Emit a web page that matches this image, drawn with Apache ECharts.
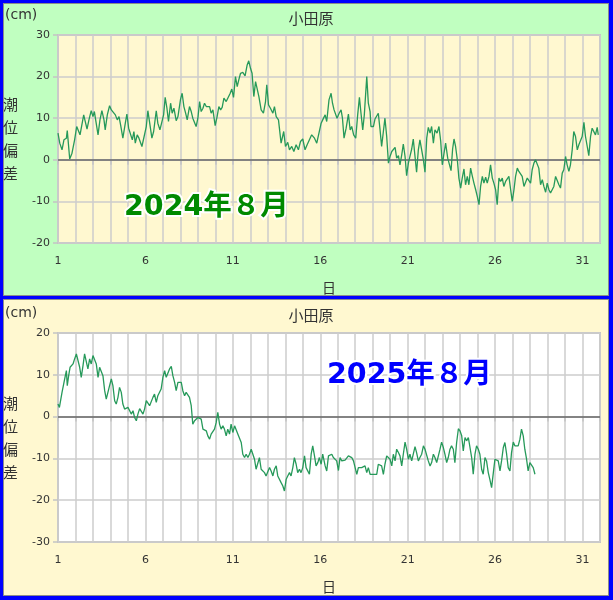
<!DOCTYPE html>
<html><head><meta charset="utf-8">
<script src="https://cdn.jsdelivr.net/npm/echarts@6/dist/echarts.min.js"></script>
<style>
html,body{margin:0;padding:0;}
body{width:613px;height:600px;background:#0000ff;position:relative;overflow:hidden;}
.panel{position:absolute;left:3px;width:604px;border:1px solid #8c8c8c;}
#p1{top:3px;height:291px;background:#c0ffc0;}
#p2{top:299px;height:295px;background:#fff8d0;}
#chart{position:absolute;left:0;top:0;width:613px;height:600px;}
</style></head>
<body>
<div class="panel" id="p1"></div>
<div class="panel" id="p2"></div>
<div id="chart"></div>
<script>
// 2024年8月 小田原 潮位偏差 (day of month, cm)
const days2024 = [1.00,1.10,1.23,1.34,1.48,1.53,1.67,1.80,1.95,2.07,2.18,2.26,2.33,2.47,2.56,2.66,2.77,2.90,3.00,3.08,3.17,3.29,3.40,3.51,3.63,3.70,3.82,3.95,4.05,4.16,4.28,4.39,4.49,4.58,4.71,4.85,4.94,5.04,5.15,5.25,5.34,5.42,5.53,5.63,5.72,5.80,5.91,6.05,6.14,6.26,6.37,6.47,6.62,6.71,6.83,6.94,7.04,7.13,7.23,7.32,7.44,7.53,7.63,7.76,7.86,8.01,8.10,8.20,8.30,8.39,8.52,8.62,8.71,8.81,8.90,9.00,9.10,9.19,9.29,9.38,9.48,9.57,9.67,9.76,9.86,9.99,10.10,10.20,10.30,10.39,10.49,10.62,10.71,10.85,10.94,11.04,11.15,11.25,11.34,11.44,11.57,11.70,11.82,11.91,12.01,12.10,12.20,12.30,12.39,12.49,12.62,12.75,12.87,12.94,13.04,13.15,13.29,13.38,13.48,13.61,13.76,13.91,14.01,14.14,14.24,14.37,14.49,14.62,14.75,14.87,15.00,15.13,15.25,15.38,15.51,15.67,15.80,15.90,16.05,16.14,
16.28,16.37,16.50,16.62,16.70,16.79,16.89,16.96,17.08,17.19,17.27,17.36,17.48,17.61,17.71,17.80,17.91,18.03,18.14,18.24,18.33,18.43,18.52,18.66,18.75,18.85,18.90,19.04,19.13,19.23,19.32,19.42,19.51,19.61,19.70,19.80,19.90,19.99,20.09,20.18,20.28,20.37,20.47,20.56,20.66,20.75,20.85,20.94,21.04,21.13,21.23,21.32,21.42,21.51,21.61,21.70,21.80,21.90,21.99,22.09,22.18,22.28,22.37,22.47,22.56,22.68,22.79,22.89,22.98,23.08,23.17,23.29,23.38,23.48,23.57,23.65,23.74,23.84,23.93,24.03,24.12,24.22,24.31,24.41,24.50,24.60,24.70,24.79,24.89,24.98,25.08,25.17,25.27,25.36,25.46,25.55,25.65,25.74,25.84,25.93,26.03,26.12,26.22,26.31,26.41,26.50,26.60,26.70,26.79,26.89,26.98,27.08,27.17,27.27,27.36,27.46,27.55,27.65,27.74,27.84,27.93,28.03,28.12,28.22,28.31,28.41,28.50,28.60,28.70,28.79,28.89,28.98,29.08,29.17,29.27,29.36,29.46,29.55,29.65,29.74,29.84,29.93,30.03,30.12,30.22,30.31,30.41,30.50,30.60,30.70,30.79,30.89,30.98,31.08,31.17,31.27,31.36,31.46,31.55,31.65,31.74,31.84,31.90];
const tide2024 = [6.4,4.0,2.4,4.8,5.2,7.0,0.2,1.6,4.8,8.0,7.8,6.0,6.4,10.8,9.2,7.4,9.6,11.8,10.4,11.6,9.2,6.0,9.6,11.8,9.6,7.2,10.8,13.0,12.0,11.6,10.8,9.6,10.4,8.4,5.2,8.8,11.0,7.6,7.2,4.8,6.8,4.0,6.0,5.2,4.8,3.2,3.2,8.0,11.8,8.4,5.2,6.8,11.8,8.8,7.2,7.2,10.8,15.0,12.4,9.2,13.6,11.2,12.4,9.4,10.4,14.6,16.0,12.8,11.2,9.6,12.8,11.6,10.0,9.6,8.0,10.0,14.0,11.6,12.4,13.6,12.8,12.4,12.8,11.2,12.0,8.2,10.4,12.8,12.0,12.6,14.8,14.0,14.0,16.0,17.0,15.0,20.0,17.6,19.2,20.8,21.0,20.2,22.8,23.8,22.0,20.8,15.2,18.8,18.4,15.2,12.0,11.2,14.0,18.0,13.2,12.4,11.2,12.8,10.4,9.6,4.0,6.8,3.2,4.2,2.4,3.2,2.0,3.6,2.4,4.4,5.0,2.4,3.6,4.8,6.0,5.2,4.0,4.4,8.8,9.6,
10.8,9.2,14.4,16.0,13.6,12.0,12.0,10.0,11.2,12.0,10.0,5.2,7.6,11.0,7.2,8.0,6.0,5.2,10.8,15.0,11.2,7.2,10.8,20.0,13.6,11.6,8.0,8.0,9.8,10.0,11.2,7.2,3.2,6.8,10.0,5.6,-0.8,0.8,2.0,2.0,3.0,0.4,1.0,-1.2,1.2,3.8,0.8,-3.8,-0.8,0.8,2.6,5.0,0.8,-3.0,2.4,4.8,5.0,0.0,-3.0,5.2,7.8,6.4,8.0,4.0,7.2,6.4,8.0,4.4,-1.2,1.6,4.0,0.4,0.0,-2.6,2.6,5.0,3.2,0.0,-4.4,-6.8,-4.4,-2.2,-6.0,-4.0,-6.0,-2.0,-4.0,-5.6,-7.2,-8.8,-10.8,-6.4,-4.0,-5.6,-4.2,-5.6,-4.0,-1.2,-4.4,-5.6,-7.2,-10.8,-4.4,-5.2,-4.4,-6.4,-5.2,-4.8,-4.0,-7.2,-10.0,-7.2,-4.0,-2.0,-2.8,-3.2,-4.0,-6.4,-6.8,-4.4,-4.0,-5.6,-2.4,-0.8,0.0,0.0,-2.0,-6.0,-4.8,-6.4,-7.8,-5.6,-7.2,-8.0,-7.8,-6.4,-4.0,-4.4,-6.0,-6.8,-3.2,-2.4,0.8,-1.2,-2.8,-1.2,2.4,6.8,5.6,2.4,3.6,3.2,5.6,9.0,5.6,3.2,1.0,5.6,7.6,8.0,6.0,7.8,6.0];

// 2025年8月 小田原 潮位偏差 (day of month, cm)
const days2025 = [1.00,1.08,1.15,1.23,1.32,1.42,1.48,1.53,1.61,1.69,1.76,1.86,1.95,2.05,2.14,2.24,2.33,2.43,2.52,2.62,2.71,2.81,2.90,3.00,3.10,3.19,3.29,3.38,3.48,3.57,3.67,3.76,3.86,3.95,4.05,4.14,4.24,4.33,4.43,4.52,4.62,4.71,4.81,4.90,5.00,5.10,5.19,5.29,5.38,5.48,5.57,5.67,5.76,5.86,5.95,6.05,6.14,6.24,6.33,6.43,6.52,6.62,6.71,6.81,6.90,7.00,7.10,7.19,7.29,7.38,7.48,7.57,7.67,7.76,7.86,7.95,8.05,8.14,8.24,8.33,8.43,8.52,8.62,8.71,8.81,8.90,9.00,9.10,9.19,9.29,9.38,9.48,9.57,9.67,9.76,9.86,9.95,10.05,10.14,10.24,10.33,10.43,10.52,10.62,10.71,10.81,10.90,11.00,11.10,11.19,11.29,11.38,11.48,11.57,11.67,11.76,11.86,11.95,12.05,12.14,12.24,12.33,12.43,12.52,12.62,12.71,12.81,12.90,13.00,13.10,13.19,13.29,13.38,13.48,13.57,13.67,13.76,13.86,13.95,14.05,14.14,14.24,14.33,14.43,14.52,14.62,14.71,14.81,14.90,15.00,15.10,15.19,15.29,15.38,15.48,15.57,15.67,15.76,15.86,15.95,16.05,16.14,
16.28,16.37,16.47,16.56,16.66,16.75,16.85,16.94,17.04,17.13,17.23,17.32,17.42,17.51,17.61,17.70,17.80,17.90,17.99,18.09,18.18,18.28,18.37,18.47,18.56,18.66,18.75,18.85,18.94,19.04,19.13,19.23,19.32,19.42,19.51,19.61,19.70,19.80,19.90,19.99,20.09,20.18,20.28,20.37,20.47,20.56,20.66,20.75,20.85,20.94,21.04,21.13,21.23,21.32,21.42,21.51,21.61,21.70,21.80,21.90,21.99,22.09,22.18,22.28,22.37,22.47,22.56,22.66,22.75,22.85,22.94,23.04,23.13,23.23,23.32,23.42,23.51,23.61,23.70,23.80,23.90,23.99,24.09,24.18,24.28,24.37,24.47,24.56,24.66,24.75,24.85,24.94,25.04,25.13,25.23,25.32,25.42,25.51,25.61,25.70,25.80,25.90,25.99,26.09,26.18,26.28,26.37,26.47,26.56,26.66,26.75,26.85,26.94,27.04,27.13,27.23,27.32,27.42,27.51,27.61,27.70,27.80,27.89,27.99,28.09,28.18,28.28];
const tide2025 = [3.0,2.2,2.2,5.8,6.2,9.8,11.0,7.4,9.8,11.8,11.4,12.6,13.8,15.0,15.0,11.8,9.4,12.2,15.0,15.0,11.4,13.8,12.6,14.6,15.0,12.6,9.4,11.8,11.4,9.8,6.2,4.2,4.6,7.4,9.0,7.4,3.8,3.0,4.6,7.0,5.8,3.0,1.8,1.4,2.2,1.4,0.6,1.4,-0.2,-1.0,0.6,1.9,1.8,0.6,1.8,3.8,3.4,2.6,3.0,4.6,5.4,3.4,5.0,4.6,6.6,9.4,11.0,9.4,9.8,11.4,12.0,9.8,8.2,6.2,8.2,7.8,8.2,6.2,5.0,5.8,5.9,4.6,2.6,-1.8,-1.0,-1.4,-0.2,-0.2,-0.6,-3.0,-2.9,-3.4,-4.6,-5.4,-4.2,-4.6,-3.0,-1.4,1.0,-1.8,-3.0,-2.2,-3.0,-4.6,-3.0,-4.2,-1.8,-3.8,-2.2,-1.8,-4.2,-4.6,-6.2,-9.0,-9.8,-9.0,-9.8,-9.0,-7.8,-8.0,-10.2,-12.6,-13.0,-9.8,-12.6,-13.0,-13.4,-14.2,-14.6,-12.2,-13.0,-14.2,-12.6,-11.8,-14.2,-14.6,-15.8,-16.6,-17.8,-15.0,-14.2,-13.4,-14.2,-12.2,-9.8,-11.4,-13.4,-12.6,-13.4,-12.2,-9.4,-12.2,-12.6,-13.8,-9.0,-7.0,-9.4,-11.8,-11.0,-9.8,-11.4,-9.0,
-11.8,-13.0,-9.4,-9.0,-9.0,-9.8,-9.4,-10.6,-12.9,-9.8,-10.6,-11.0,-10.4,-10.6,-9.4,-9.0,-9.8,-10.6,-10.2,-13.8,-12.2,-12.6,-12.2,-12.6,-11.8,-13.4,-12.2,-13.8,-13.4,-13.8,-13.8,-13.8,-11.4,-11.0,-11.8,-13.8,-11.4,-9.4,-9.0,-10.2,-11.8,-9.0,-10.6,-7.8,-8.6,-9.4,-11.8,-9.0,-6.1,-7.8,-10.2,-9.0,-10.6,-9.0,-7.2,-8.6,-10.6,-9.8,-9.0,-7.0,-7.8,-7.4,-10.6,-11.8,-11.0,-9.0,-9.8,-11.0,-10.6,-7.8,-6.1,-7.4,-9.0,-11.0,-9.8,-7.8,-7.0,-7.8,-11.0,-6.2,-2.9,-3.4,-4.6,-8.2,-5.0,-5.8,-5.0,-5.4,-9.8,-13.8,-9.0,-7.0,-7.8,-9.0,-12.6,-13.8,-9.8,-10.6,-13.4,-15.0,-17.0,-13.4,-10.2,-9.8,-10.6,-13.0,-10.6,-7.4,-6.2,-9.0,-12.2,-13.0,-8.6,-6.1,-7.0,-7.4,-7.0,-5.4,-3.0,-4.6,-7.8,-10.2,-13.0,-11.0,-11.4,-12.2,-13.8];

const xLabelDays = [1,6,11,16,21,26,31];
const stationName = '小田原';
const unitText = '(cm)';
const yName = '潮位偏差';
const xName = '日';
const label2024 = '2024年８月';
const label2025 = '2025年８月';

const pairs = (d, v) => d.map((x, i) => [x, v[i]]);

const labelFont = 'DejaVu Sans, sans-serif';
const cjkFont = 'Noto Sans CJK JP, sans-serif';

function xAxisOpt(gi) {
  return {
    gridIndex: gi, type: 'value', min: 1, max: 32, interval: 1,
    name: xName, nameLocation: 'middle', nameGap: 38,
    nameTextStyle: { fontFamily: cjkFont, fontSize: 14, color: '#333' },
    axisLine: { show: false },
    axisTick: { show: true, length: 5, lineStyle: { color: '#c4c4c4', width: 1.5 } },
    axisLabel: { fontFamily: labelFont, fontSize: 11, color: '#333', margin: 13,
      formatter: v => xLabelDays.includes(v) ? String(v) : '' , showMaxLabel: true, showMinLabel: true, hideOverlap: false},
    splitLine: { show: true, lineStyle: { color: '#cdcdcd', width: 1.5 } }
  };
}
function yAxisOpt(gi, mn, mx) {
  return {
    gridIndex: gi, type: 'value', min: mn, max: mx, interval: 10,
    name: yName.split('').join('\n'), nameLocation: 'middle', nameGap: 40, nameRotate: 0,
    nameTextStyle: { fontFamily: cjkFont, fontSize: 15, color: '#333', lineHeight: 23 },
    axisLine: { show: false },
    axisTick: { show: true, length: 5, lineStyle: { color: '#c4c4c4', width: 1.5 } },
    axisLabel: { fontFamily: labelFont, fontSize: 11, color: '#333', margin: 8 },
    splitLine: { show: true, lineStyle: { color: '#cdcdcd', width: 1.5 } }
  };
}
function seriesOpt(gi, data) {
  return {
    type: 'line', xAxisIndex: gi, yAxisIndex: gi, data: data,
    showSymbol: false, symbol: 'none', smooth: false,
    lineStyle: { color: '#26995a', width: 1.3 },
    z: 3,
    markLine: { silent: true, symbol: 'none', label: { show: false },
      lineStyle: { color: '#666666', width: 1.5, type: 'solid' },
      data: [{ yAxis: 0 }], z: 2 }
  };
}

const chart = echarts.init(document.getElementById('chart'), null, { renderer: 'canvas' });
chart.setOption({
  animation: false,
  backgroundColor: 'transparent',
  title: [
    { text: stationName, left: 306, top: 6, textAlign: 'center',
      textStyle: { fontFamily: cjkFont, fontSize: 15, fontWeight: 'normal', color: '#333' } },
    { text: stationName, left: 306, top: 303, textAlign: 'center',
      textStyle: { fontFamily: cjkFont, fontSize: 15, fontWeight: 'normal', color: '#333' } }
  ],
  grid: [
    { left: 58, right: 13, top: 35, bottom: 357, show: true, backgroundColor: '#fff8d0', borderColor: '#c4c4c4', borderWidth: 2 },
    { left: 58, right: 13, top: 333, bottom: 58, show: true, backgroundColor: '#ffffff', borderColor: '#c4c4c4', borderWidth: 2 }
  ],
  xAxis: [xAxisOpt(0), xAxisOpt(1)],
  yAxis: [yAxisOpt(0, -20, 30), yAxisOpt(1, -30, 20)],
  series: [seriesOpt(0, pairs(days2024, tide2024)), seriesOpt(1, pairs(days2025, tide2025))],
  graphic: [
    { type: 'text', left: 5, top: 8, z: 10, style: { text: unitText, font: '14px ' + labelFont, fill: '#333' } },
    { type: 'text', left: 5, top: 306, z: 10, style: { text: unitText, font: '14px ' + labelFont, fill: '#333' } },
    { type: 'text', left: 122, top: 191, z: 20, style: { text: label2024, font: 'bold 28.5px DejaVu Sans, Noto Sans CJK JP, sans-serif', fill: '#008a00', stroke: '#ffffff', lineWidth: 4 } },
    { type: 'text', left: 325, top: 359, z: 20, style: { text: label2025, font: 'bold 28.5px DejaVu Sans, Noto Sans CJK JP, sans-serif', fill: '#0000ff', stroke: '#ffffff', lineWidth: 4 } }
  ]
});
</script>
</body></html>
